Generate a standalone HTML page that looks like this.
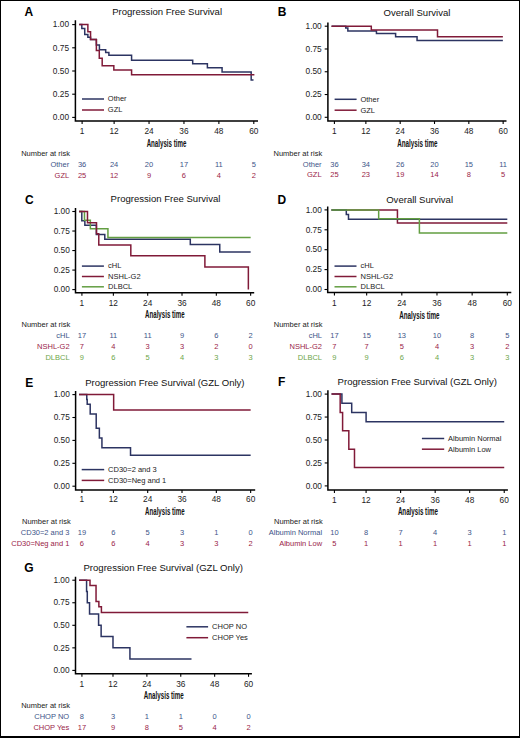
<!DOCTYPE html>
<html><head><meta charset="utf-8"><title>Survival curves</title>
<style>
html,body{margin:0;padding:0;background:#fff;}
body{width:520px;height:738px;overflow:hidden;position:relative;}
#frame{position:absolute;left:0;top:0;width:520px;height:738px;box-sizing:border-box;border-style:solid;border-color:#000;border-width:1px 1px 2px 1px;}
svg{position:absolute;left:0;top:0;}
text{font-family:"Liberation Sans",sans-serif;}
.let{font-size:12px;font-weight:bold;fill:#000;}
.tit{font-size:9.55px;fill:#111;}
.ax{fill:none;stroke:#000;stroke-width:1.5;stroke-linejoin:miter;}
.tk{fill:none;stroke:#000;stroke-width:1.1;}
.yl{font-size:8.3px;fill:#222;text-anchor:end;}
.xl{font-size:8.3px;fill:#222;text-anchor:middle;}
.at{font-size:10px;font-weight:bold;fill:#111;}
.lg{font-size:7.5px;fill:#222;}
.rk{font-size:7.5px;fill:#222;}
.rl{font-size:7.5px;text-anchor:end;}
.rv{font-size:7.5px;text-anchor:middle;}
</style></head>
<body>
<svg width="520" height="738" viewBox="0 0 520 738">
<g><text x="24.6" y="16.2" class="let">A</text><text x="112.2" y="14.9" class="tit">Progression Free Survival</text><path d="M75.4,20.2V120.9H258" class="ax"/><path d="M72.2,24.6H75.4" class="tk"/><text x="69" y="27.3" class="yl">1.00</text><path d="M72.2,47.8H75.4" class="tk"/><text x="69" y="50.5" class="yl">0.75</text><path d="M72.2,71H75.4" class="tk"/><text x="69" y="73.7" class="yl">0.50</text><path d="M72.2,94.2H75.4" class="tk"/><text x="69" y="96.9" class="yl">0.25</text><path d="M72.2,117.4H75.4" class="tk"/><text x="69" y="120.1" class="yl">0.00</text><path d="M82.11,120.9V123.9" class="tk"/><text x="82.11" y="133.6" class="xl">1</text><path d="M114.12,120.9V123.9" class="tk"/><text x="114.12" y="133.6" class="xl">12</text><path d="M149.04,120.9V123.9" class="tk"/><text x="149.04" y="133.6" class="xl">24</text><path d="M183.96,120.9V123.9" class="tk"/><text x="183.96" y="133.6" class="xl">36</text><path d="M218.88,120.9V123.9" class="tk"/><text x="218.88" y="133.6" class="xl">48</text><path d="M253.8,120.9V123.9" class="tk"/><text x="253.8" y="133.6" class="xl">60</text><text x="146.65" y="146.7" class="at" textLength="39.7" lengthAdjust="spacingAndGlyphs">Analysis time</text><path d="M79.2,24.6H81.82V28.4H84.73V34.44H87.87V37.31H90.55V39.45H96.37V45.02H99.42V49.66H105.68V52.53H108.88V55.32H131.58V60.24H192.69V63.85H207.39V67.66H222.08V72.02H251.18V80H253.51" fill="none" stroke="#2c3462" stroke-width="1.5" stroke-linejoin="miter" stroke-linecap="butt"/><path d="M79.2,24.6H87.87V31.75H90.55V39.45H96.37V50.58H99.28V58.19H102.19V65.8H113.83V69.89H131.58V74.71H254.38" fill="none" stroke="#801a38" stroke-width="1.5" stroke-linejoin="miter" stroke-linecap="butt"/><path d="M82,99H104" stroke="#2c3462" stroke-width="1.5"/><text x="107.8" y="101.3" class="lg">Other</text><path d="M82,110H104" stroke="#801a38" stroke-width="1.5"/><text x="107.8" y="112.3" class="lg">GZL</text><text x="21.15" y="155.5" class="rk">Number at risk</text><text x="69.15" y="166.5" class="rl" fill="#3d5488">Other</text><text x="82.11" y="166.5" class="rv" fill="#3d5488">36</text><text x="114.12" y="166.5" class="rv" fill="#3d5488">24</text><text x="149.04" y="166.5" class="rv" fill="#3d5488">20</text><text x="183.96" y="166.5" class="rv" fill="#3d5488">17</text><text x="218.88" y="166.5" class="rv" fill="#3d5488">11</text><text x="253.8" y="166.5" class="rv" fill="#3d5488">5</text><text x="69.15" y="177.5" class="rl" fill="#9a2448">GZL</text><text x="82.11" y="177.5" class="rv" fill="#9a2448">25</text><text x="114.12" y="177.5" class="rv" fill="#9a2448">12</text><text x="149.04" y="177.5" class="rv" fill="#9a2448">9</text><text x="183.96" y="177.5" class="rv" fill="#9a2448">6</text><text x="218.88" y="177.5" class="rv" fill="#9a2448">4</text><text x="253.8" y="177.5" class="rv" fill="#9a2448">2</text></g>
<g><text x="277.7" y="16.2" class="let">B</text><text x="383.6" y="15.5" class="tit">Overall Survival</text><path d="M327.9,22.5V121H506.5" class="ax"/><path d="M324.7,26.2H327.9" class="tk"/><text x="321.7" y="28.9" class="yl">1.00</text><path d="M324.7,48.98H327.9" class="tk"/><text x="321.7" y="51.68" class="yl">0.75</text><path d="M324.7,71.75H327.9" class="tk"/><text x="321.7" y="74.45" class="yl">0.50</text><path d="M324.7,94.53H327.9" class="tk"/><text x="321.7" y="97.23" class="yl">0.25</text><path d="M324.7,117.3H327.9" class="tk"/><text x="321.7" y="120" class="yl">0.00</text><path d="M334.41,121V124" class="tk"/><text x="334.41" y="133.6" class="xl">1</text><path d="M365.87,121V124" class="tk"/><text x="365.87" y="133.6" class="xl">12</text><path d="M400.19,121V124" class="tk"/><text x="400.19" y="133.6" class="xl">24</text><path d="M434.51,121V124" class="tk"/><text x="434.51" y="133.6" class="xl">36</text><path d="M468.83,121V124" class="tk"/><text x="468.83" y="133.6" class="xl">48</text><path d="M503.15,121V124" class="tk"/><text x="503.15" y="133.6" class="xl">60</text><text x="397.15" y="147.1" class="at" textLength="40.4" lengthAdjust="spacingAndGlyphs">Analysis time</text><path d="M331.55,26.2H345.71V28.11H347.85V31.12H376.45V33.49H395.61V36.68H417.06V40.59H502.86" fill="none" stroke="#2c3462" stroke-width="1.5" stroke-linejoin="miter" stroke-linecap="butt"/><path d="M331.55,26.2H371.3V30.03H437.51V36.86H502.86" fill="none" stroke="#801a38" stroke-width="1.5" stroke-linejoin="miter" stroke-linecap="butt"/><path d="M334.6,99.3H356.6" stroke="#2c3462" stroke-width="1.5"/><text x="360.4" y="101.6" class="lg">Other</text><path d="M334.6,110.2H356.6" stroke="#801a38" stroke-width="1.5"/><text x="360.4" y="112.5" class="lg">GZL</text><text x="273.5" y="155.5" class="rk">Number at risk</text><text x="321.6" y="166.5" class="rl" fill="#3d5488">Other</text><text x="334.41" y="166.5" class="rv" fill="#3d5488">36</text><text x="365.87" y="166.5" class="rv" fill="#3d5488">34</text><text x="400.19" y="166.5" class="rv" fill="#3d5488">26</text><text x="434.51" y="166.5" class="rv" fill="#3d5488">20</text><text x="468.83" y="166.5" class="rv" fill="#3d5488">15</text><text x="503.15" y="166.5" class="rv" fill="#3d5488">11</text><text x="321.6" y="177.4" class="rl" fill="#9a2448">GZL</text><text x="334.41" y="177.4" class="rv" fill="#9a2448">25</text><text x="365.87" y="177.4" class="rv" fill="#9a2448">23</text><text x="400.19" y="177.4" class="rv" fill="#9a2448">19</text><text x="434.51" y="177.4" class="rv" fill="#9a2448">14</text><text x="468.83" y="177.4" class="rv" fill="#9a2448">8</text><text x="503.15" y="177.4" class="rv" fill="#9a2448">5</text></g>
<g><text x="25.1" y="203.8" class="let">C</text><text x="110.6" y="202.3" class="tit">Progression Free Survival</text><path d="M75.5,208.1V292.7H254.2" class="ax"/><path d="M72.3,211.5H75.5" class="tk"/><text x="69.8" y="214.2" class="yl">1.00</text><path d="M72.3,231.03H75.5" class="tk"/><text x="69.8" y="233.72" class="yl">0.75</text><path d="M72.3,250.55H75.5" class="tk"/><text x="69.8" y="253.25" class="yl">0.50</text><path d="M72.3,270.08H75.5" class="tk"/><text x="69.8" y="272.78" class="yl">0.25</text><path d="M72.3,289.6H75.5" class="tk"/><text x="69.8" y="292.3" class="yl">0.00</text><path d="M81.91,292.7V295.7" class="tk"/><text x="81.91" y="305.5" class="xl">1</text><path d="M113.37,292.7V295.7" class="tk"/><text x="113.37" y="305.5" class="xl">12</text><path d="M147.69,292.7V295.7" class="tk"/><text x="147.69" y="305.5" class="xl">24</text><path d="M182.01,292.7V295.7" class="tk"/><text x="182.01" y="305.5" class="xl">36</text><path d="M216.33,292.7V295.7" class="tk"/><text x="216.33" y="305.5" class="xl">48</text><path d="M250.65,292.7V295.7" class="tk"/><text x="250.65" y="305.5" class="xl">60</text><text x="145.1" y="318.2" class="at" textLength="39.5" lengthAdjust="spacingAndGlyphs">Analysis time</text><path d="M79.05,211.5H81.8V220.72H84.86V225.25H96.35V234.46H104.79V239.23H190.3V244.61H219.76V252.03H250.65" fill="none" stroke="#2c3462" stroke-width="1.5" stroke-linejoin="miter" stroke-linecap="butt"/><path d="M79.05,211.5H84.48V220.17H90.35V228.84H107.94V237.51H250.65" fill="none" stroke="#639e42" stroke-width="1.5" stroke-linejoin="miter" stroke-linecap="butt"/><path d="M79.05,211.5H87.49V222.67H96.5V233.84H98.78V245H130.82V255.78H204.89V267.11H248.36V289.6H248.36" fill="none" stroke="#801a38" stroke-width="1.5" stroke-linejoin="miter" stroke-linecap="butt"/><path d="M81.9,266.1H103.9" stroke="#2c3462" stroke-width="1.5"/><text x="108.1" y="268.4" class="lg">cHL</text><path d="M81.9,276.5H103.9" stroke="#801a38" stroke-width="1.5"/><text x="108.1" y="278.8" class="lg">NSHL-G2</text><path d="M81.9,286.8H103.9" stroke="#639e42" stroke-width="1.5"/><text x="108.1" y="289.1" class="lg">DLBCL</text><text x="21.5" y="327.2" class="rk">Number at risk</text><text x="69.6" y="338" class="rl" fill="#3d5488">cHL</text><text x="81.91" y="338" class="rv" fill="#3d5488">17</text><text x="113.37" y="338" class="rv" fill="#3d5488">11</text><text x="147.69" y="338" class="rv" fill="#3d5488">11</text><text x="182.01" y="338" class="rv" fill="#3d5488">9</text><text x="216.33" y="338" class="rv" fill="#3d5488">6</text><text x="250.65" y="338" class="rv" fill="#3d5488">2</text><text x="69.6" y="348.8" class="rl" fill="#9a2448">NSHL-G2</text><text x="81.91" y="348.8" class="rv" fill="#9a2448">7</text><text x="113.37" y="348.8" class="rv" fill="#9a2448">4</text><text x="147.69" y="348.8" class="rv" fill="#9a2448">3</text><text x="182.01" y="348.8" class="rv" fill="#9a2448">3</text><text x="216.33" y="348.8" class="rv" fill="#9a2448">2</text><text x="250.65" y="348.8" class="rv" fill="#9a2448">0</text><text x="69.6" y="359.5" class="rl" fill="#6ea64a">DLBCL</text><text x="81.91" y="359.5" class="rv" fill="#6ea64a">9</text><text x="113.37" y="359.5" class="rv" fill="#6ea64a">6</text><text x="147.69" y="359.5" class="rv" fill="#6ea64a">5</text><text x="182.01" y="359.5" class="rv" fill="#6ea64a">4</text><text x="216.33" y="359.5" class="rv" fill="#6ea64a">3</text><text x="250.65" y="359.5" class="rv" fill="#6ea64a">3</text></g>
<g><text x="277.6" y="203.8" class="let">D</text><text x="386.2" y="202.7" class="tit">Overall Survival</text><path d="M327.7,206.5V292.6H511.3" class="ax"/><path d="M324.5,209.9H327.7" class="tk"/><text x="321.8" y="212.6" class="yl">1.00</text><path d="M324.5,229.8H327.7" class="tk"/><text x="321.8" y="232.5" class="yl">0.75</text><path d="M324.5,249.7H327.7" class="tk"/><text x="321.8" y="252.4" class="yl">0.50</text><path d="M324.5,269.6H327.7" class="tk"/><text x="321.8" y="272.3" class="yl">0.25</text><path d="M324.5,289.5H327.7" class="tk"/><text x="321.8" y="292.2" class="yl">0.00</text><path d="M334.43,292.6V295.6" class="tk"/><text x="334.43" y="305.5" class="xl">1</text><path d="M366.66,292.6V295.6" class="tk"/><text x="366.66" y="305.5" class="xl">12</text><path d="M401.82,292.6V295.6" class="tk"/><text x="401.82" y="305.5" class="xl">24</text><path d="M436.98,292.6V295.6" class="tk"/><text x="436.98" y="305.5" class="xl">36</text><path d="M472.14,292.6V295.6" class="tk"/><text x="472.14" y="305.5" class="xl">48</text><path d="M507.3,292.6V295.6" class="tk"/><text x="507.3" y="305.5" class="xl">60</text><text x="399.2" y="318.6" class="at" textLength="40.4" lengthAdjust="spacingAndGlyphs">Analysis time</text><path d="M331.5,209.9H397.43V223.11H507.3" fill="none" stroke="#801a38" stroke-width="1.5" stroke-linejoin="miter" stroke-linecap="butt"/><path d="M331.5,209.9H346.3V214.6H348.49V219.29H507.3" fill="none" stroke="#2c3462" stroke-width="1.5" stroke-linejoin="miter" stroke-linecap="butt"/><path d="M331.5,209.9H378.67V218.74H419.4V232.9H507.3" fill="none" stroke="#639e42" stroke-width="1.5" stroke-linejoin="miter" stroke-linecap="butt"/><path d="M334.5,266.1H356.5" stroke="#2c3462" stroke-width="1.5"/><text x="360.6" y="268.4" class="lg">cHL</text><path d="M334.5,276.5H356.5" stroke="#801a38" stroke-width="1.5"/><text x="360.6" y="278.8" class="lg">NSHL-G2</text><path d="M334.5,286.8H356.5" stroke="#639e42" stroke-width="1.5"/><text x="360.6" y="289.1" class="lg">DLBCL</text><text x="273.75" y="327.2" class="rk">Number at risk</text><text x="322" y="338" class="rl" fill="#3d5488">cHL</text><text x="334.43" y="338" class="rv" fill="#3d5488">17</text><text x="366.66" y="338" class="rv" fill="#3d5488">15</text><text x="401.82" y="338" class="rv" fill="#3d5488">13</text><text x="436.98" y="338" class="rv" fill="#3d5488">10</text><text x="472.14" y="338" class="rv" fill="#3d5488">8</text><text x="507.3" y="338" class="rv" fill="#3d5488">5</text><text x="322" y="348.8" class="rl" fill="#9a2448">NSHL-G2</text><text x="334.43" y="348.8" class="rv" fill="#9a2448">7</text><text x="366.66" y="348.8" class="rv" fill="#9a2448">7</text><text x="401.82" y="348.8" class="rv" fill="#9a2448">5</text><text x="436.98" y="348.8" class="rv" fill="#9a2448">4</text><text x="472.14" y="348.8" class="rv" fill="#9a2448">3</text><text x="507.3" y="348.8" class="rv" fill="#9a2448">2</text><text x="322" y="359.5" class="rl" fill="#6ea64a">DLBCL</text><text x="334.43" y="359.5" class="rv" fill="#6ea64a">9</text><text x="366.66" y="359.5" class="rv" fill="#6ea64a">9</text><text x="401.82" y="359.5" class="rv" fill="#6ea64a">6</text><text x="436.98" y="359.5" class="rv" fill="#6ea64a">4</text><text x="472.14" y="359.5" class="rv" fill="#6ea64a">3</text><text x="507.3" y="359.5" class="rv" fill="#6ea64a">3</text></g>
<g><text x="25.2" y="386.6" class="let">E</text><text x="85.2" y="385.5" class="tit">Progression Free Survival (GZL Only)</text><path d="M75.6,391V489.9H255.2" class="ax"/><path d="M72.4,394.6H75.6" class="tk"/><text x="69.8" y="397.3" class="yl">1.00</text><path d="M72.4,417.5H75.6" class="tk"/><text x="69.8" y="420.2" class="yl">0.75</text><path d="M72.4,440.4H75.6" class="tk"/><text x="69.8" y="443.1" class="yl">0.50</text><path d="M72.4,463.3H75.6" class="tk"/><text x="69.8" y="466" class="yl">0.25</text><path d="M72.4,486.2H75.6" class="tk"/><text x="69.8" y="488.9" class="yl">0.00</text><path d="M81.91,489.9V492.9" class="tk"/><text x="81.91" y="502.3" class="xl">1</text><path d="M113.37,489.9V492.9" class="tk"/><text x="113.37" y="502.3" class="xl">12</text><path d="M147.69,489.9V492.9" class="tk"/><text x="147.69" y="502.3" class="xl">24</text><path d="M182.01,489.9V492.9" class="tk"/><text x="182.01" y="502.3" class="xl">36</text><path d="M216.33,489.9V492.9" class="tk"/><text x="216.33" y="502.3" class="xl">48</text><path d="M250.65,489.9V492.9" class="tk"/><text x="250.65" y="502.3" class="xl">60</text><text x="145.1" y="515" class="at" textLength="39.5" lengthAdjust="spacingAndGlyphs">Analysis time</text><path d="M79.05,394.6H86.77V399.45H87.2V404.22H90.2V413.93H96.21V428.31H99.36V438.02H101.93V447.64H130.53V455.33H250.65" fill="none" stroke="#2c3462" stroke-width="1.5" stroke-linejoin="miter" stroke-linecap="butt"/><path d="M79.05,394.6H113.66V409.9H250.65" fill="none" stroke="#801a38" stroke-width="1.5" stroke-linejoin="miter" stroke-linecap="butt"/><path d="M81.7,469.6H104.2" stroke="#2c3462" stroke-width="1.5"/><text x="108.1" y="471.9" class="lg">CD30=2 and 3</text><path d="M81.7,480.4H104.2" stroke="#801a38" stroke-width="1.5"/><text x="108.1" y="482.7" class="lg">CD30=Neg and 1</text><text x="22" y="524.25" class="rk">Number at risk</text><text x="69.4" y="535" class="rl" fill="#3d5488">CD30=2 and 3</text><text x="81.91" y="535" class="rv" fill="#3d5488">19</text><text x="113.37" y="535" class="rv" fill="#3d5488">6</text><text x="147.69" y="535" class="rv" fill="#3d5488">5</text><text x="182.01" y="535" class="rv" fill="#3d5488">3</text><text x="216.33" y="535" class="rv" fill="#3d5488">1</text><text x="250.65" y="535" class="rv" fill="#3d5488">0</text><text x="69.4" y="546" class="rl" fill="#9a2448">CD30=Neg and 1</text><text x="81.91" y="546" class="rv" fill="#9a2448">6</text><text x="113.37" y="546" class="rv" fill="#9a2448">6</text><text x="147.69" y="546" class="rv" fill="#9a2448">4</text><text x="182.01" y="546" class="rv" fill="#9a2448">3</text><text x="216.33" y="546" class="rv" fill="#9a2448">3</text><text x="250.65" y="546" class="rv" fill="#9a2448">2</text></g>
<g><text x="278" y="386.1" class="let">F</text><text x="337.6" y="385" class="tit">Progression Free Survival (GZL Only)</text><path d="M327.9,390.2V489.9H507.9" class="ax"/><path d="M324.7,394.1H327.9" class="tk"/><text x="321.9" y="396.8" class="yl">1.00</text><path d="M324.7,417.05H327.9" class="tk"/><text x="321.9" y="419.75" class="yl">0.75</text><path d="M324.7,440H327.9" class="tk"/><text x="321.9" y="442.7" class="yl">0.50</text><path d="M324.7,462.95H327.9" class="tk"/><text x="321.9" y="465.65" class="yl">0.25</text><path d="M324.7,485.9H327.9" class="tk"/><text x="321.9" y="488.6" class="yl">0.00</text><path d="M334.43,489.9V492.9" class="tk"/><text x="334.43" y="502.7" class="xl">1</text><path d="M366.09,489.9V492.9" class="tk"/><text x="366.09" y="502.7" class="xl">12</text><path d="M400.62,489.9V492.9" class="tk"/><text x="400.62" y="502.7" class="xl">24</text><path d="M435.16,489.9V492.9" class="tk"/><text x="435.16" y="502.7" class="xl">36</text><path d="M469.69,489.9V492.9" class="tk"/><text x="469.69" y="502.7" class="xl">48</text><path d="M504.23,489.9V492.9" class="tk"/><text x="504.23" y="502.7" class="xl">60</text><text x="397.89" y="515" class="at" textLength="40" lengthAdjust="spacingAndGlyphs">Analysis time</text><path d="M331.55,394.1H341.91V403.28H351.7V412.46H366.09V421.64H504.23" fill="none" stroke="#2c3462" stroke-width="1.5" stroke-linejoin="miter" stroke-linecap="butt"/><path d="M331.55,394.1H340.18V412.46H342.6V430.82H348.82V449.18H354.49V467.54H504.23" fill="none" stroke="#801a38" stroke-width="1.5" stroke-linejoin="miter" stroke-linecap="butt"/><path d="M421.9,438.5H444.2" stroke="#2c3462" stroke-width="1.5"/><text x="448.1" y="440.8" class="lg">Albumin Normal</text><path d="M421.9,449.2H444.2" stroke="#801a38" stroke-width="1.5"/><text x="448.1" y="451.5" class="lg">Albumin Low</text><text x="274" y="524.25" class="rk">Number at risk</text><text x="322.1" y="535" class="rl" fill="#3d5488">Albumin Normal</text><text x="334.43" y="535" class="rv" fill="#3d5488">10</text><text x="366.09" y="535" class="rv" fill="#3d5488">8</text><text x="400.62" y="535" class="rv" fill="#3d5488">7</text><text x="435.16" y="535" class="rv" fill="#3d5488">4</text><text x="469.69" y="535" class="rv" fill="#3d5488">3</text><text x="504.23" y="535" class="rv" fill="#3d5488">1</text><text x="322.1" y="546.2" class="rl" fill="#9a2448">Albumin Low</text><text x="334.43" y="546.2" class="rv" fill="#9a2448">5</text><text x="366.09" y="546.2" class="rv" fill="#9a2448">1</text><text x="400.62" y="546.2" class="rv" fill="#9a2448">1</text><text x="435.16" y="546.2" class="rv" fill="#9a2448">1</text><text x="469.69" y="546.2" class="rv" fill="#9a2448">1</text><text x="504.23" y="546.2" class="rv" fill="#9a2448">1</text></g>
<g><text x="24.2" y="572.3" class="let">G</text><text x="83.5" y="571.3" class="tit">Progression Free Survival (GZL Only)</text><path d="M75.5,576.8V673.8H251.9" class="ax"/><path d="M72.3,580.2H75.5" class="tk"/><text x="69.6" y="582.9" class="yl">1.00</text><path d="M72.3,602.75H75.5" class="tk"/><text x="69.6" y="605.45" class="yl">0.75</text><path d="M72.3,625.3H75.5" class="tk"/><text x="69.6" y="628" class="yl">0.50</text><path d="M72.3,647.85H75.5" class="tk"/><text x="69.6" y="650.55" class="yl">0.25</text><path d="M72.3,670.4H75.5" class="tk"/><text x="69.6" y="673.1" class="yl">0.00</text><path d="M81.92,673.8V676.8" class="tk"/><text x="81.92" y="686.5" class="xl">1</text><path d="M112.99,673.8V676.8" class="tk"/><text x="112.99" y="686.5" class="xl">12</text><path d="M146.88,673.8V676.8" class="tk"/><text x="146.88" y="686.5" class="xl">24</text><path d="M180.76,673.8V676.8" class="tk"/><text x="180.76" y="686.5" class="xl">36</text><path d="M214.65,673.8V676.8" class="tk"/><text x="214.65" y="686.5" class="xl">48</text><path d="M248.54,673.8V676.8" class="tk"/><text x="248.54" y="686.5" class="xl">60</text><text x="143.82" y="699.2" class="at" textLength="40" lengthAdjust="spacingAndGlyphs">Analysis time</text><path d="M79.1,580.2H86.58V591.48H87.29V602.75H89.55V614.02H98.59V625.3H101.13V636.58H112.99V647.85H129.93V659.12H191.5" fill="none" stroke="#2c3462" stroke-width="1.5" stroke-linejoin="miter" stroke-linecap="butt"/><path d="M79.1,580.2H90V585.52H96.04V601.4H98.87V606.72H101.41V612.49H248.26" fill="none" stroke="#801a38" stroke-width="1.5" stroke-linejoin="miter" stroke-linecap="butt"/><path d="M186.4,626.8H208.1" stroke="#2c3462" stroke-width="1.5"/><text x="212.1" y="629.1" class="lg">CHOP NO</text><path d="M186.4,637.7H208.1" stroke="#801a38" stroke-width="1.5"/><text x="212.1" y="640" class="lg">CHOP Yes</text><text x="21.15" y="708.3" class="rk">Number at risk</text><text x="69.15" y="719.1" class="rl" fill="#3d5488">CHOP NO</text><text x="81.92" y="719.1" class="rv" fill="#3d5488">8</text><text x="112.99" y="719.1" class="rv" fill="#3d5488">3</text><text x="146.88" y="719.1" class="rv" fill="#3d5488">1</text><text x="180.76" y="719.1" class="rv" fill="#3d5488">1</text><text x="214.65" y="719.1" class="rv" fill="#3d5488">0</text><text x="248.54" y="719.1" class="rv" fill="#3d5488">0</text><text x="69.15" y="730" class="rl" fill="#9a2448">CHOP Yes</text><text x="81.92" y="730" class="rv" fill="#9a2448">17</text><text x="112.99" y="730" class="rv" fill="#9a2448">9</text><text x="146.88" y="730" class="rv" fill="#9a2448">8</text><text x="180.76" y="730" class="rv" fill="#9a2448">5</text><text x="214.65" y="730" class="rv" fill="#9a2448">4</text><text x="248.54" y="730" class="rv" fill="#9a2448">2</text></g>
</svg>
<div id="frame"></div>
</body></html>
